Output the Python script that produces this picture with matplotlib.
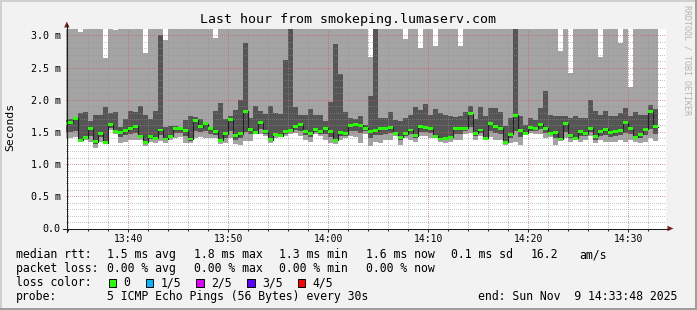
# ============================================================
# SMOKEPING - ULTIMA HORA (lumaserv.com)
# ============================================================

import numpy as np
import matplotlib.pyplot as plt
from matplotlib.lines import Line2D
from matplotlib.patches import Rectangle, Polygon


# ============================================================
# DATOS (ms, un valor cada 30 s desde 13:33:30)
# ============================================================

inicio_min = 3.5      # minutos despues de las 13:30
paso_min = 0.5

mediana = [
    1.63, 1.64, 1.71, 1.37, 1.41, 1.55, 1.35, 1.47, 1.33, 1.61,
    1.51, 1.49, 1.52, 1.56, 1.59, 1.43, 1.34, 1.43, 1.40, 1.53,
    1.39, 1.43, 1.56, 1.55, 1.52, 1.39, 1.68, 1.58, 1.63, 1.55,
    1.50, 1.37, 1.47, 1.69, 1.44, 1.47, 1.82, 1.54, 1.49, 1.64,
    1.50, 1.38, 1.46, 1.44, 1.51, 1.52, 1.59, 1.61, 1.51, 1.48,
    1.54, 1.50, 1.56, 1.50, 1.37, 1.49, 1.47, 1.60, 1.61, 1.60,
    1.56, 1.50, 1.52, 1.55, 1.55, 1.57, 1.47, 1.42, 1.47, 1.53,
    1.44, 1.58, 1.57, 1.55, 1.43, 1.39, 1.40, 1.42, 1.55, 1.55,
    1.56, 1.78, 1.48, 1.53, 1.40, 1.63, 1.59, 1.56, 1.34, 1.46,
    1.76, 1.52, 1.48, 1.57, 1.55, 1.62, 1.56, 1.47, 1.49, 1.39,
    1.63, 1.45, 1.40, 1.50, 1.47, 1.56, 1.43, 1.50, 1.54, 1.49,
    1.51, 1.52, 1.64, 1.55, 1.42, 1.46, 1.54, 1.81, 1.58
]

ping_1 = [
    1.40, 1.41, 1.42, 1.35, 1.38, 1.35, 1.25, 1.35, 1.31, 1.53,
    1.46, 1.33, 1.35, 1.38, 1.38, 1.38, 1.28, 1.35, 1.33, 1.36,
    1.33, 1.38, 1.40, 1.42, 1.33, 1.33, 1.40, 1.42, 1.40, 1.40,
    1.40, 1.32, 1.33, 1.40, 1.31, 1.29, 1.36, 1.36, 1.46, 1.47,
    1.43, 1.33, 1.40, 1.42, 1.43, 1.47, 1.48, 1.43, 1.38, 1.35,
    1.47, 1.43, 1.38, 1.33, 1.31, 1.38, 1.40, 1.43, 1.42, 1.33,
    1.47, 1.28, 1.35, 1.33, 1.38, 1.38, 1.43, 1.30, 1.40, 1.38,
    1.35, 1.43, 1.43, 1.40, 1.40, 1.35, 1.33, 1.35, 1.38, 1.38,
    1.46, 1.48, 1.38, 1.43, 1.38, 1.42, 1.38, 1.38, 1.30, 1.33,
    1.35, 1.29, 1.46, 1.48, 1.46, 1.47, 1.40, 1.42, 1.30, 1.36,
    1.40, 1.35, 1.37, 1.35, 1.38, 1.43, 1.33, 1.38, 1.35, 1.35,
    1.35, 1.38, 1.35, 1.38, 1.35, 1.33, 1.35, 1.40, 1.36
]

ping_2 = [
    1.50, 1.50, 1.52, 1.36, 1.39, 1.44, 1.32, 1.42, 1.32, 1.56,
    1.48, 1.42, 1.45, 1.47, 1.48, 1.41, 1.31, 1.39, 1.37, 1.45,
    1.37, 1.41, 1.48, 1.48, 1.44, 1.36, 1.52, 1.50, 1.52, 1.47,
    1.45, 1.35, 1.41, 1.52, 1.38, 1.40, 1.50, 1.46, 1.47, 1.55,
    1.47, 1.36, 1.43, 1.43, 1.47, 1.50, 1.53, 1.52, 1.45, 1.42,
    1.50, 1.47, 1.47, 1.42, 1.34, 1.44, 1.44, 1.52, 1.51, 1.48,
    1.52, 1.40, 1.45, 1.45, 1.47, 1.48, 1.45, 1.37, 1.44, 1.46,
    1.40, 1.50, 1.50, 1.48, 1.42, 1.37, 1.37, 1.39, 1.47, 1.47,
    1.51, 1.58, 1.44, 1.48, 1.39, 1.52, 1.49, 1.47, 1.32, 1.40,
    1.52, 1.42, 1.47, 1.52, 1.51, 1.54, 1.48, 1.45, 1.40, 1.38,
    1.50, 1.40, 1.39, 1.43, 1.43, 1.50, 1.38, 1.44, 1.45, 1.42,
    1.43, 1.45, 1.48, 1.47, 1.39, 1.40, 1.45, 1.55, 1.47
]

ping_4 = [
    1.69, 1.70, 1.73, 1.80, 1.81, 1.67, 1.76, 1.76, 1.88, 1.79,
    1.81, 1.58, 1.70, 1.82, 1.81, 1.90, 1.76, 1.70, 1.82, 3.00,
    1.58, 1.59, 1.59, 1.58, 1.68, 1.75, 1.73, 1.70, 1.66, 1.58,
    1.82, 1.95, 1.70, 1.74, 1.84, 1.99, 2.88, 1.71, 1.90, 1.82,
    1.78, 1.91, 1.79, 1.78, 2.61, 3.40, 1.88, 1.76, 1.76, 1.85,
    1.76, 1.76, 1.67, 1.97, 2.87, 2.40, 1.81, 1.71, 1.70, 1.74,
    1.61, 2.06, 3.40, 1.71, 1.71, 1.81, 1.69, 1.67, 1.71, 1.76,
    1.89, 1.84, 1.94, 1.76, 1.85, 1.80, 1.76, 1.75, 1.73, 1.74,
    1.81, 1.90, 1.70, 1.89, 1.74, 1.87, 1.87, 1.81, 1.59, 1.71,
    3.40, 1.74, 1.61, 1.71, 1.69, 1.87, 2.14, 1.76, 1.74, 1.74,
    1.74, 1.71, 1.74, 1.71, 1.72, 1.99, 1.83, 1.76, 1.82, 1.74,
    1.74, 1.80, 1.87, 1.74, 1.81, 1.76, 1.76, 1.92, 1.86
]

ping_5 = [
    3.40, 3.40, 3.40, 3.05, 3.40, 3.40, 3.40, 3.40, 2.65, 3.40,
    3.08, 3.40, 3.40, 3.40, 3.40, 3.40, 2.73, 3.40, 3.40, 3.40,
    2.92, 3.40, 3.40, 3.40, 3.40, 3.40, 3.40, 3.40, 3.40, 3.40,
    2.96, 3.40, 3.40, 3.40, 3.40, 3.40, 3.40, 3.40, 3.40, 3.40,
    3.40, 3.40, 3.40, 3.40, 3.40, 3.40, 3.40, 3.40, 3.40, 3.40,
    3.40, 3.40, 3.40, 3.40, 3.40, 3.40, 3.40, 3.40, 3.40, 3.40,
    3.40, 2.66, 3.40, 3.40, 3.40, 3.40, 3.40, 3.40, 2.94, 3.40,
    3.40, 2.81, 3.40, 3.40, 2.84, 3.40, 3.40, 3.40, 3.40, 2.84,
    3.40, 3.40, 3.40, 3.40, 3.40, 3.40, 3.40, 3.40, 3.40, 3.40,
    3.40, 3.40, 3.40, 3.40, 3.40, 3.40, 3.40, 3.40, 3.40, 2.75,
    3.40, 2.42, 3.40, 3.40, 3.40, 3.40, 3.40, 2.66, 3.40, 3.40,
    3.40, 2.88, 3.40, 2.20, 3.40, 3.40, 3.40, 3.40, 3.40
]

marcas_y = [0.0, 0.5, 1.0, 1.5, 2.0, 2.5, 3.0]
etiquetas_y = ["0.0", "0.5 m", "1.0 m", "1.5 m", "2.0 m", "2.5 m", "3.0 m"]
marcas_x = [10, 20, 30, 40, 50, 60]
etiquetas_x = ["13:40", "13:50", "14:00", "14:10", "14:20", "14:30"]

titulo = "Last hour from smokeping.lumaserv.com"

fila_rtt = ["median rtt:", "1.5 ms avg", "1.8 ms max", "1.3 ms min",
            "1.6 ms now", "0.1 ms sd", "16.2", "am/s"]
fila_perdida = ["packet loss:", "0.00 % avg", "0.00 % max",
                "0.00 % min", "0.00 % now"]
perdidas = ["0", "1/5", "2/5", "3/5", "4/5"]
colores_perdida = ["#26ff00", "#00b8ff", "#dd00ff", "#5a00ff", "#ff0000"]
sonda = "5 ICMP Echo Pings (56 Bytes) every 30s"
fin = "end: Sun Nov  9 14:33:48 2025"


# ============================================================
# CONFIGURACION
# ============================================================

ANCHO = 697
ALTO = 310
FUENTE = "DejaVu Sans Mono"

GRIS_CLARO = "#a4a4a4"
GRIS_OSCURO = "#555555"


def fx(x):
    return x / ANCHO


def fy(y):
    return 1 - y / ALTO


def escalon(valores):
    valores = np.asarray(valores)
    return np.append(valores, valores[-1])


# ============================================================
# FIGURA Y EJES
# ============================================================

fig = plt.figure(figsize=(ANCHO / 100, ALTO / 100), dpi=100)
fig.patch.set_facecolor("#f2f2f2")

ax = fig.add_axes([
    fx(66.3),
    fy(228.5),
    600 / ANCHO,
    199.6 / ALTO
])

ax.set_facecolor("white")
ax.set_xlim(3.8, 63.8)
ax.set_ylim(0, 3.1)

for lado in ax.spines.values():
    lado.set_visible(False)


# ============================================================
# HUMO (DISTRIBUCION DE PINGS)
# ============================================================

bordes = inicio_min + paso_min * np.arange(len(mediana) + 1)

ax.fill_between(bordes, escalon(ping_1), escalon(ping_2), step="post",
                color=GRIS_CLARO, lw=0, antialiased=False, zorder=1)
ax.fill_between(bordes, escalon(ping_2), escalon(ping_4), step="post",
                color=GRIS_OSCURO, lw=0, antialiased=False, zorder=1)
ax.fill_between(bordes, escalon(ping_4), escalon(ping_5), step="post",
                color=GRIS_CLARO, lw=0, antialiased=False, zorder=1)


# ============================================================
# REJILLA
# ============================================================

punteado = (0, (1, 1.5))
gris_rejilla = (0.56, 0.56, 0.56, 0.5)
rojo_rejilla = (0.87, 0.31, 0.31, 0.55)

for y in np.arange(0.1, 3.1, 0.1):
    if abs(y / 0.5 - round(y / 0.5)) > 1e-6:
        ax.axhline(y, color=gris_rejilla, lw=0.72, ls=punteado,
                   antialiased=False, zorder=2)

for x in np.arange(4, 64, 2):
    if x % 10 != 0:
        ax.axvline(x, color=gris_rejilla, lw=0.72, ls=punteado,
                   antialiased=False, zorder=2)

for y in marcas_y[1:]:
    ax.axhline(y, color=rojo_rejilla, lw=0.72, ls=punteado,
               antialiased=False, zorder=2)

for x in marcas_x:
    ax.axvline(x, color=rojo_rejilla, lw=0.72, ls=punteado,
               antialiased=False, zorder=2)


# ============================================================
# MEDIANA
# ============================================================

mediana_arr = np.asarray(mediana)
medio_alto = 0.023

ax.step(bordes, escalon(mediana), where="post",
        color="#202020", lw=0.8, zorder=3)

ax.bar(bordes[:-1], 2 * medio_alto, bottom=mediana_arr - medio_alto,
       width=paso_min, align="edge", color=colores_perdida[0],
       lw=0, antialiased=False, zorder=4)


# ============================================================
# ETIQUETAS DE LOS EJES
# ============================================================

ax.set_yticks(marcas_y)
ax.set_yticklabels(etiquetas_y, family=FUENTE, fontsize=7.2)
ax.tick_params(axis="y", length=0, pad=4)

ax.set_xticks(marcas_x)
ax.set_xticklabels(etiquetas_x, family=FUENTE, fontsize=7.0)
ax.set_xticks(np.arange(4, 64, 2), minor=True)
ax.tick_params(axis="x", which="major", length=2.2, width=0.7,
               color="#1f1f1f", pad=1.6)
ax.tick_params(axis="x", which="minor", length=1.4, width=0.7,
               color="#1f1f1f")

# lineas de los ejes con flechas
fig.add_artist(Line2D([fx(63), fx(668)], [fy(228.5), fy(228.5)],
                      color="#1f1f1f", lw=0.75))
fig.add_artist(Line2D([fx(66.8), fx(66.8)], [fy(231.5), fy(24)],
                      color="#1f1f1f", lw=0.75))
fig.add_artist(Polygon([[fx(667.5), fy(225.8)], [fx(667.5), fy(231.2)],
                        [fx(673.5), fy(228.5)]],
                       closed=True, color="#801f1f", lw=0))
fig.add_artist(Polygon([[fx(64.1), fy(27.5)], [fx(69.5), fy(27.5)],
                        [fx(66.8), fy(21.5)]],
                       closed=True, color="#801f1f", lw=0))


# ============================================================
# TEXTOS
# ============================================================

fig.text(fx(348.5), fy(19.5), titulo, ha="center", va="center",
         family=FUENTE, fontsize=9.5)

fig.text(fx(10), fy(127), "Seconds", rotation=90, ha="center",
         va="center", family=FUENTE, fontsize=8.2)

fig.text(fx(687.5), fy(5), "RRDTOOL / TOBI OETIKER", rotation=270,
         ha="center", va="top", family=FUENTE, fontsize=6.0,
         color="#b4b4b4")

pos_rtt = [16, 107.3, 194, 279.3, 365.7, 451, 530.7, 579.3]
for texto, x in zip(fila_rtt, pos_rtt):
    fig.text(fx(x), fy(254.5), texto, ha="left", va="center",
             family=FUENTE, fontsize=8.3)

for texto, x in zip(fila_perdida, pos_rtt):
    fig.text(fx(x), fy(268.5), texto, ha="left", va="center",
             family=FUENTE, fontsize=8.3)

fig.text(fx(16), fy(282.5), "loss color:", ha="left", va="center",
         family=FUENTE, fontsize=8.3)

pos_caja = [108.7, 145.7, 196.3, 247.3, 297.7]
for texto, color, x in zip(perdidas, colores_perdida, pos_caja):
    fig.add_artist(Rectangle((fx(x), fy(286.5)), 7.5 / ANCHO, 8 / ALTO,
                             facecolor=color, edgecolor="black", lw=0.7))
    fig.text(fx(x + 14.6), fy(282.5), texto, ha="left", va="center",
             family=FUENTE, fontsize=8.3)

fig.text(fx(16), fy(296.2), "probe:", ha="left", va="center",
         family=FUENTE, fontsize=8.3)
fig.text(fx(107.3), fy(296.2), sonda, ha="left", va="center",
         family=FUENTE, fontsize=8.3)
fig.text(fx(478.3), fy(296.2), fin, ha="left", va="center",
         family=FUENTE, fontsize=8.3)


# ============================================================
# MARCO SOMBREADO
# ============================================================

fig.add_artist(Rectangle((0, fy(2)), 1, 2 / ALTO, color="#cfcfcf", lw=0))
fig.add_artist(Rectangle((0, 0), 2 / ANCHO, 1, color="#cfcfcf", lw=0))
fig.add_artist(Rectangle((0, 0), 1, 2 / ALTO, color="#9e9e9e", lw=0))
fig.add_artist(Rectangle((fx(695), 0), 2 / ANCHO, 1, color="#9e9e9e", lw=0))

plt.savefig("out.png", dpi=100, facecolor=fig.get_facecolor())
